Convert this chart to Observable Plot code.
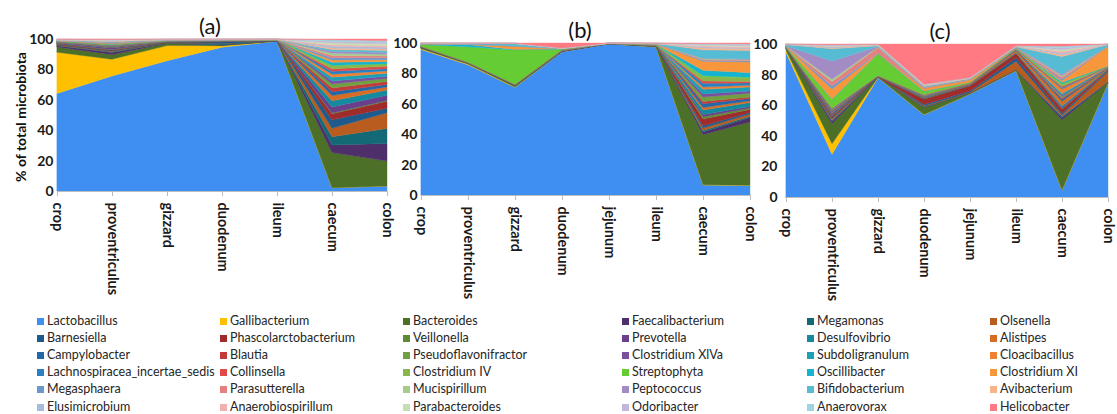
<!DOCTYPE html>
<html><head><meta charset="utf-8">
<script src="https://cdn.jsdelivr.net/npm/d3@7"></script>
<script src="https://cdn.jsdelivr.net/npm/@observablehq/plot@0.6"></script>
<style>
body{margin:0;background:#fff;}
#root{position:relative;width:1117px;height:414px;overflow:hidden;font-family:Lato,"Open Sans",sans-serif;background:#fff;}
.panel{position:absolute;left:0;top:0;}
.title{position:absolute;font-size:22px;color:#111;transform:translate(-50%,-50%);white-space:nowrap;}
.ylab{position:absolute;font-size:14px;font-weight:bold;color:#111;white-space:nowrap;transform:translate(-50%,-50%) rotate(-90deg);}
.leg{position:absolute;font-size:12.5px;color:#262626;white-space:nowrap;line-height:14px;height:14px;}
.sw{position:absolute;width:7px;height:7px;top:4px;left:0;}
.lt{position:absolute;left:10px;top:0;}
</style></head><body><div id="root"></div>
<script>
const genera = ["Lactobacillus","Gallibacterium","Bacteroides","Faecalibacterium","Megamonas","Olsenella",
"Barnesiella","Phascolarctobacterium","Veillonella","Prevotella","Desulfovibrio","Alistipes",
"Campylobacter","Blautia","Pseudoflavonifractor","Clostridium XlVa","Subdoligranulum","Cloacibacillus",
"Lachnospiracea_incertae_sedis","Collinsella","Clostridium IV","Streptophyta","Oscillibacter","Clostridium XI",
"Megasphaera","Parasutterella","Mucispirillum","Peptococcus","Bifidobacterium","Avibacterium",
"Elusimicrobium","Anaerobiospirillum","Parabacteroides","Odoribacter","Anaerovorax","Helicobacter"];
const colors = ["#3f8ff2","#ffc000","#4d7028","#4e2f6a","#136a76","#b85c20",
"#1f5a8c","#a02b2b","#5e8a32","#6a3f8c","#158a9e","#d86c24",
"#2068a8","#c23a3a","#70a040","#7b4e9e","#1ba0b6","#f08032",
"#2a80c0","#e04a4a","#88b84c","#66cc33","#15b4d0","#f7963a",
"#6d98cc","#e58080","#a6cc8c","#a38cc4","#55bcd4","#f8b48a",
"#a6bcdc","#f0b0b0","#c6deb4","#c4b6d8","#9dd4e0","#ff7a82"];

const sitesA = ["crop","proventriculus","gizzard","duodenum","ileum","caecum","colon"];
const sitesB = ["crop","proventriculus","gizzard","duodenum","jejunum","ileum","caecum","colon"];
const sitesC = ["crop","proventriculus","gizzard","duodenum","jejunum","ileum","caecum","colon"];
const yTicks = [0, 20, 40, 60, 80, 100];

// % of total microbiota, one row per genus (legend order), one column per site
const valuesA = [
[64,75.5,85.5,94.5,98.5,2.2,3.3],
[27,11,10,1,0.1,0,0],
[3.5,3,1.5,0.3,0.05,23,16.4],
[0.8,1.5,0.2,0.2,0.04,5,11.6],
[0.2,0.4,0.1,0.8,0.04,5.5,9.9],
[0.3,0.4,0.1,0.1,0.04,5.5,10.3],
[0.3,0.4,0.2,1.2,0.04,5.5,3],
[0.3,0.4,0.1,0.1,0.04,4,4.5],
[0.2,0.3,0.1,0.05,0.04,0.5,0.5],
[0.5,1,0.2,0.1,0.04,4,3.5],
[0.1,0.2,0.07,0.06,0.04,4,3.5],
[0.1,0.2,0.07,0.06,0.04,3.5,2],
[0.1,0.2,0.07,0.06,0.04,2.5,1.5],
[0.1,0.2,0.07,0.06,0.04,2.5,2],
[0.1,0.2,0.07,0.06,0.04,2.5,2],
[0.1,0.2,0.07,0.06,0.04,2,1.5],
[0.1,0.2,0.07,0.06,0.04,2.5,2],
[0.1,0.2,0.07,0.06,0.04,2,1.5],
[0.1,0.2,0.07,0.06,0.04,2,1.5],
[0.1,0.2,0.07,0.06,0.04,1.5,1.5],
[0.1,0.2,0.07,0.06,0.04,2,1.5],
[0.1,0.2,0.07,0.06,0.04,0.3,0.2],
[0.1,0.25,0.07,0.06,0.04,2,1.5],
[0.1,0.25,0.07,0.06,0.04,1.5,1.2],
[0.1,0.25,0.07,0.06,0.04,1.5,1.2],
[0.1,0.25,0.07,0.06,0.04,1.5,1.2],
[0.1,0.25,0.07,0.06,0.04,1.5,1.2],
[0.1,0.25,0.07,0.06,0.04,1.2,1.2],
[0.1,0.25,0.07,0.06,0.04,1.2,1.2],
[0.1,0.25,0.07,0.06,0.04,1,1],
[0.1,0.25,0.07,0.06,0.04,1.2,1.2],
[0.1,0.25,0.07,0.06,0.04,1,1],
[0.1,0.25,0.07,0.06,0.04,1.2,1.2],
[0.1,0.25,0.07,0.06,0.04,1,1],
[0.1,0.25,0.07,0.06,0.04,1,1],
[0.1,0.25,0.07,0.06,0.04,0.5,1.2]];

const valuesB = [
[96.3,86,71,95.5,99.5,97.3,6.6,6.3],
[0.5,0.5,0.2,0.05,0.01,0.05,0.1,0.1],
[0.8,0.5,1,0.2,0.02,0.5,33,41.6],
[0.05,0.05,0.05,0.05,0.01,0.05,1.8,3],
[0.05,0.05,0.05,0.05,0.01,0.05,1,0.8],
[0.1,0.05,0.05,0.05,0.01,0.05,1.5,1.5],
[0.05,0.05,0.05,0.05,0.01,0.05,1.5,1],
[0.05,0.05,0.05,0.1,0.01,0.05,4.5,2],
[0.05,0.05,0.05,0.05,0.01,0.05,1.5,1],
[0.05,0.05,0.05,0.05,0.01,0.05,1.5,1],
[0.05,0.05,0.05,0.05,0.01,0.05,3,2.5],
[0.05,0.05,0.05,0.05,0.01,0.05,1.5,1.2],
[0.05,0.05,0.05,0.05,0.01,0.05,2.5,1.5],
[0.05,0.05,0.05,0.05,0.01,0.05,1.5,1],
[0.05,0.05,0.05,0.05,0.01,0.05,3,2.5],
[0.05,0.05,0.05,0.05,0.01,0.05,2,1.5],
[0.05,0.05,0.05,0.05,0.01,0.05,3,2.5],
[0.05,0.05,0.05,0.05,0.01,0.05,1.5,1.2],
[0.05,0.05,0.05,0.05,0.01,0.05,2.5,1.5],
[0.05,0.05,0.05,0.3,0.01,0.05,1.5,1],
[0.05,0.05,0.05,0.05,0.01,0.05,3,2.5],
[1,10,22.5,0.4,0.05,0.3,0.5,0.3],
[0.3,1.5,0.3,0.05,0.01,0.1,3.5,3],
[0.1,0.2,2.2,0.05,0.01,0.1,6,7],
[0.05,0.05,0.05,0.05,0.01,0.05,0.6,0.6],
[0.05,0.05,0.05,0.05,0.01,0.05,0.6,0.6],
[0.05,0.05,0.05,0.05,0.01,0.05,0.4,0.4],
[0.05,0.05,0.05,0.05,0.01,0.05,0.4,0.4],
[0.05,0.3,1.5,0.05,0.01,0.1,5.5,5.5],
[0.05,0.05,0.05,0.05,0.01,0.05,1.2,1.2],
[0.05,0.05,0.05,0.05,0.01,0.05,0.6,0.6],
[0.05,0.05,0.05,0.05,0.01,0.05,0.8,0.8],
[0.05,0.05,0.05,0.05,0.01,0.05,0.6,0.6],
[0.05,0.05,0.05,0.05,0.01,0.05,0.5,0.6],
[0.05,0.05,0.05,0.05,0.01,0.05,0.4,0.5],
[0.05,0.05,0.1,3.3,0.05,0.1,0.4,0.7]];

const valuesC = [
[94,28,77.7,53.8,67.5,82.5,4.4,74.4],
[1.5,7,0.2,0.1,0.1,0.1,0.1,0.1],
[1.3,13,0.3,4.5,0.6,0.3,45.8,0.4],
[0.05,1.5,0.05,0.3,0.1,0.1,1.5,0.2],
[0.05,0.8,0.05,0.3,0.1,0.2,1,0.3],
[0.05,1,0.05,0.5,0.3,5.5,0.8,6.6],
[0.05,0.8,0.05,1,0.8,2.3,1.2,0.6],
[0.05,1,0.1,3.5,3.5,2.8,2.5,0.3],
[0.05,0.5,0.05,0.2,0.1,0.1,0.5,0.1],
[0.05,1.2,0.05,0.3,0.1,0.2,0.8,0.4],
[0.05,0.5,0.05,0.3,0.2,0.3,1,0.3],
[0.05,0.5,0.05,0.3,0.3,1.2,3,0.4],
[0.05,0.3,0.05,0.2,0.1,0.2,1.2,0.2],
[0.05,0.3,0.05,0.2,0.2,0.2,0.8,0.1],
[0.05,0.3,0.05,0.2,0.1,0.1,1,0.1],
[0.05,0.3,0.05,0.2,0.1,0.1,0.8,0.1],
[0.05,0.3,0.05,0.2,0.1,0.2,1.2,0.2],
[0.05,0.3,0.05,0.2,0.2,0.2,3,0.2],
[0.05,0.3,0.05,0.2,0.1,0.1,0.8,0.2],
[0.05,0.3,0.05,0.3,0.2,0.1,0.8,0.1],
[0.05,0.3,0.05,0.3,0.1,0.1,1.5,0.1],
[0.3,5.5,14,1.8,0.3,0.2,0.3,0.05],
[0.05,0.3,0.2,0.3,0.1,0.2,1,0.2],
[0.2,6.5,0.3,1.8,1.5,0.3,1,12.8],
[0.05,2,0.2,0.2,0.1,0.1,1,0.05],
[0.05,3,3.5,0.3,0.2,0.1,1.5,0.1],
[0.05,1.5,0.3,0.2,0.1,0.1,0.8,0.05],
[0.05,12,0.3,0.2,0.1,0.1,1,0.05],
[0.8,8,0.5,0.5,0.3,0.2,11.5,0.9],
[0.05,0.5,0.5,0.3,0.2,0.2,1.2,0.1],
[0.05,0.5,0.1,0.2,0.1,0.1,1,0.05],
[0.05,0.4,0.1,0.2,0.1,0.1,1.2,0.05],
[0.05,0.4,0.1,0.2,0.1,0.1,1,0.05],
[0.05,0.4,0.1,0.2,0.1,0.1,1.2,0.05],
[0.05,0.4,0.1,0.2,0.1,0.1,1.2,0.05],
[0.05,0.5,0.2,26.3,22,1.1,1.4,0.05]];

const W = 1117, H = 300;
const root = document.getElementById("root");

function panel(sites, values, f) {
  const rows = [];
  genera.forEach((g, i) => sites.forEach((s, j) => rows.push({site: s, genus: g, value: values[i][j]})));
  const svg = Plot.plot({
    width: W, height: H,
    marginLeft: f.x0, marginRight: W - f.x1, marginTop: f.y100, marginBottom: H - f.y0,
    style: {background: "transparent", overflow: "visible", maxWidth: "none", fontFamily: "Lato, 'Open Sans', sans-serif"},
    x: {type: "point", domain: sites, padding: 0},
    y: {domain: [0, 1]},
    color: {domain: genera, range: colors},
    marks: [
      Plot.areaY(rows, Plot.stackY({offset: "normalize", order: genera},
        {x: "site", y: "value", z: "genus", fill: "genus", stroke: "genus", strokeWidth: 0.4})),
      Plot.ruleY([0], {stroke: "#bdbdbd", strokeWidth: 1}),
      Plot.axisX({tickRotate: 90, tickSize: 5, tickPadding: 6, stroke: "#bdbdbd", fill: "#1a1a1a",
        fontSize: 14.5, fontWeight: "bold", label: null}),
      Plot.axisY({ticks: yTicks.map(d => d / 100), tickFormat: d => String(Math.round(d * 100)),
        tickSize: 0, tickPadding: f.pad, fill: "#1a1a1a", fontSize: 14, fontWeight: "bold", label: null})
    ]
  });
  svg.classList.add("panel");
  root.appendChild(svg);
}

panel(sitesA, valuesA, {x0: 57, x1: 387, y100: 39, y0: 191, pad: 4});
panel(sitesB, valuesB, {x0: 421, x1: 750, y100: 43, y0: 195, pad: 4});
panel(sitesC, valuesC, {x0: 785, x1: 1108, y100: 44, y0: 197, pad: 8});

function addDiv(cls, text, x, y) {
  const d = document.createElement("div");
  d.className = cls; d.textContent = text;
  d.style.left = x + "px"; d.style.top = y + "px";
  root.appendChild(d);
  return d;
}
addDiv("title", "(a)", 210, 25);
addDiv("title", "(b)", 580, 29);
addDiv("title", "(c)", 940, 30);
addDiv("ylab", "% of total microbiota", 20, 117);

// legend: 6 columns, row-major in series order
const colX = [37, 220, 403, 622, 807, 990];
genera.forEach((g, i) => {
  const r = Math.floor(i / 6), c = i % 6;
  const d = document.createElement("div");
  d.className = "leg";
  d.style.left = colX[c] + "px";
  d.style.top = (314 + r * 17.1) + "px";
  const sw = document.createElement("span");
  sw.className = "sw"; sw.style.background = colors[i];
  const t = document.createElement("span");
  t.className = "lt"; t.textContent = g;
  d.appendChild(sw); d.appendChild(t);
  root.appendChild(d);
});
</script></body></html>
